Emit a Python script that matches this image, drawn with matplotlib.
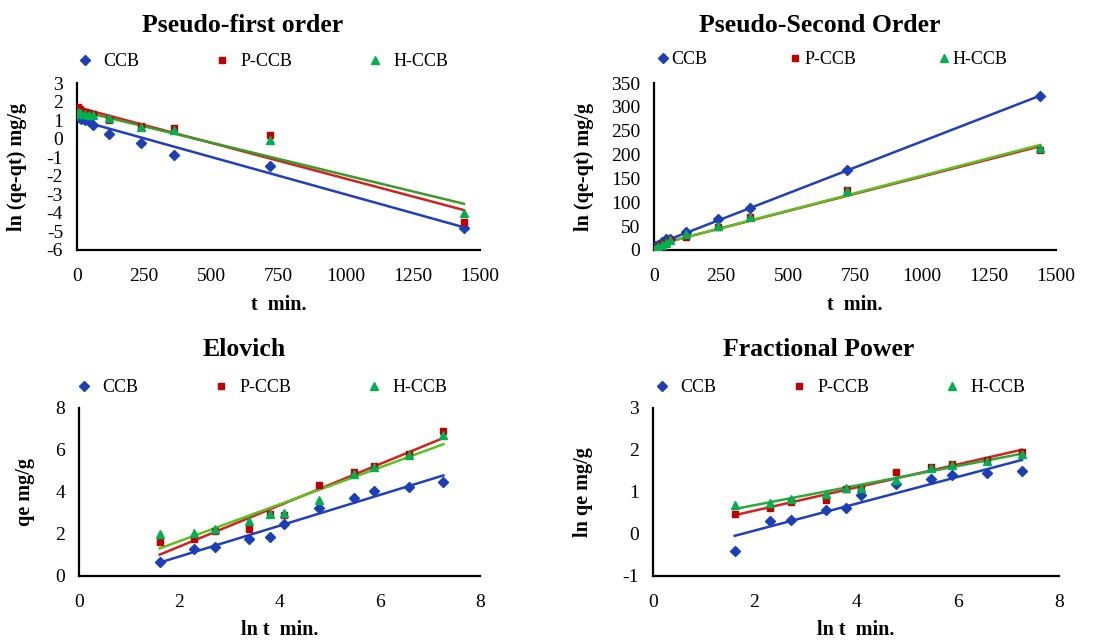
import numpy as np
import matplotlib
matplotlib.use("Agg")
import matplotlib.pyplot as plt

plt.rcParams['font.family'] = ['Liberation Serif', 'DejaVu Serif']
plt.rcParams['axes.unicode_minus'] = False

# sampling times (min) and their logs
t_min = [5, 10, 15, 30, 45, 60, 120, 240, 360, 720, 1440]
ln_t = [1.61, 2.30, 2.71, 3.40, 3.81, 4.09, 4.79, 5.48, 5.89, 6.58, 7.27]

series = ["CCB", "P-CCB", "H-CCB"]

# pseudo-first order: ln(qe-qt)
pfo_ccb = [1.3, 1.1, 1.05, 1.0, 0.95, 0.75, 0.25, -0.25, -0.9, -1.45, -4.8]
pfo_pccb = [1.7, 1.6, 1.5, 1.45, 1.4, 1.35, 1.0, 0.7, 0.55, 0.2, -4.5]
pfo_hccb = [1.45, 1.4, 1.35, 1.35, 1.3, 1.25, 1.1, 0.65, 0.45, -0.05, -4.0]

# pseudo-second order: t/qt
pso_ccb = [7.7, 7.7, 10.7, 17, 24, 24, 37, 65, 88, 168, 322]
pso_pccb = [3.1, 5.7, 7, 13.3, 15.3, 20.7, 27.6, 48.5, 69, 125, 209]
pso_hccb = [2.5, 4.9, 6.7, 11.5, 15, 20, 33, 49.5, 69, 123, 213]

# Elovich: qe
elo_ccb = [0.65, 1.3, 1.4, 1.75, 1.85, 2.5, 3.25, 3.7, 4.05, 4.25, 4.5]
elo_pccb = [1.6, 1.75, 2.15, 2.25, 2.95, 2.9, 4.35, 4.95, 5.25, 5.8, 6.9]
elo_hccb = [2.0, 2.05, 2.25, 2.6, 2.95, 3.0, 3.6, 4.85, 5.2, 5.75, 6.7]

# fractional power: ln qe
fp_ccb = [-0.4, 0.3, 0.33, 0.56, 0.62, 0.92, 1.18, 1.31, 1.4, 1.45, 1.5]
fp_pccb = [0.47, 0.62, 0.77, 0.81, 1.08, 1.06, 1.47, 1.6, 1.66, 1.76, 1.95]
fp_hccb = [0.69, 0.74, 0.83, 0.96, 1.1, 1.1, 1.28, 1.58, 1.65, 1.75, 1.9]

mk_colors = ["#1c3fb8", "#c00000", "#00b050"]
markers = ["D", "s", "^"]
msizes = [5, 5, 6]

W, H = 1114, 640


def px_axes(fig, left, top, right, bottom):
    return fig.add_axes([left / W, 1 - bottom / H, (right - left) / W, (bottom - top) / H])


def panel(fig, box, x, ys, line_colors, title, title_xy, ylabel, ylabel_x,
          xlabel, xlabel_y, xlim, xticks, ylim, yticks, leg_xy, leg_cs,
          hl=1.0, htp=0.5):
    ax = px_axes(fig, *box)
    handles = []
    for i, y in enumerate(ys):
        h, = ax.plot(x, y, linestyle="none", marker=markers[i], ms=msizes[i],
                     color=mk_colors[i], label=series[i], zorder=3)
        handles.append(h)
        k, b = np.polyfit(x, y, 1)
        xx = np.array([min(x), max(x)])
        ax.plot(xx, k * xx + b, color=line_colors[i], lw=1.8, zorder=2)
    ax.set_xlim(*xlim)
    ax.set_ylim(*ylim)
    ax.set_xticks(xticks)
    ax.set_yticks(yticks)
    for s in ["top", "right"]:
        ax.spines[s].set_visible(False)
    for s in ["left", "bottom"]:
        ax.spines[s].set_linewidth(1.6)
    ax.tick_params(length=0, labelsize=14)
    ax.tick_params(axis="x", pad=13)
    ax.tick_params(axis="y", pad=10)
    ax.set_facecolor("none")
    fig.text(title_xy[0] / W, 1 - title_xy[1] / H, title, fontsize=18.5,
             fontweight="bold", ha="center", va="center")
    fig.text(ylabel_x / W, 1 - (box[1] + box[3]) / 2 / H, ylabel, fontsize=14.5,
             fontweight="bold", rotation=90, ha="center", va="center")
    fig.text((box[0] + box[2]) / 2 / W, 1 - xlabel_y / H, xlabel, fontsize=14.5,
             fontweight="bold", ha="center", va="center")
    fig.legend(handles=handles, loc="center left",
               bbox_to_anchor=(leg_xy[0] / W, 1 - leg_xy[1] / H),
               ncol=3, frameon=False, fontsize=13, handlelength=hl,
               handletextpad=htp, columnspacing=leg_cs, borderpad=0,
               borderaxespad=0)
    return ax


fig = plt.figure(figsize=(W / 100, H / 100), dpi=100)

panel(fig, (77, 83, 480, 250), t_min, [pfo_ccb, pfo_pccb, pfo_hccb],
      ["#1f3fbf", "#d42020", "#3a9a2a"], "Pseudo-first order", (243, 25),
      "ln (qe-qt) mg/g", 17, "t  min.", 305, (0, 1500),
      [0, 250, 500, 750, 1000, 1250, 1500], (-6, 3), range(-6, 4),
      (76, 62), 4.1)

panel(fig, (654, 83, 1056, 250), t_min, [pso_ccb, pso_pccb, pso_hccb],
      ["#1f3fbf", "#d42020", "#5cc020"], "Pseudo-Second Order", (820, 25),
      "ln (qe-qt) mg/g", 584, "t  min.", 305, (0, 1500),
      [0, 250, 500, 750, 1000, 1250, 1500], (0, 350), range(0, 351, 50),
      (658, 60), 4.6, hl=0.5, htp=0.25)

panel(fig, (79, 408, 480, 576), ln_t, [elo_ccb, elo_pccb, elo_hccb],
      ["#1f3fbf", "#d42020", "#5cc020"], "Elovich", (244, 350),
      "qe mg/g", 25, "ln t  min.", 630, (0, 8), range(0, 9, 2),
      (0, 8), range(0, 9, 2), (75, 388), 4.1)

panel(fig, (653, 408, 1059, 576), ln_t, [fp_ccb, fp_pccb, fp_hccb],
      ["#1f3fbf", "#d42020", "#2ea83a"], "Fractional Power", (819, 350),
      "ln qe mg/g", 583, "ln t  min.", 630, (0, 8), range(0, 9, 2),
      (-1, 3), range(-1, 4), (653, 388), 4.1)

fig.savefig("out.png", dpi=100)
